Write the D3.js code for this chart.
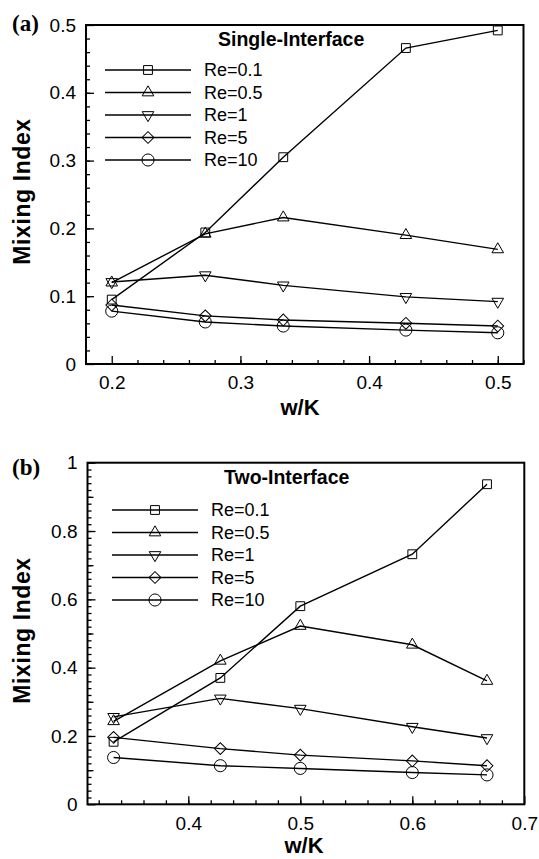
<!DOCTYPE html>
<html>
<head>
<meta charset="utf-8">
<script src="https://cdn.jsdelivr.net/npm/d3@7"></script>
<style>
body { margin: 0; background: #fff; }
text { font-family: "Liberation Sans", Arial, Helvetica, sans-serif; fill: #000; }
</style>
</head>
<body>
<script>
var w = 539;
var h = 859;

// legend names, shared by both panels
var names = ["Re=0.1", "Re=0.5", "Re=1", "Re=5", "Re=10"];

// (a) Single-Interface
var xA = [0.2, 0.2727, 0.3333, 0.4286, 0.5];
var a_re01 = [0.095, 0.194, 0.305, 0.466, 0.492];
var a_re05 = [0.120, 0.192, 0.216, 0.190, 0.169];
var a_re1  = [0.121, 0.131, 0.116, 0.099, 0.092];
var a_re5  = [0.087, 0.071, 0.065, 0.060, 0.056];
var a_re10 = [0.078, 0.062, 0.056, 0.050, 0.046];
var yTicksA = [0, 0.1, 0.2, 0.3, 0.4, 0.5];
var xTicksA = [0.2, 0.3, 0.4, 0.5];

// (b) Two-Interface
var xB = [0.3333, 0.4286, 0.5, 0.6, 0.6667];
var b_re01 = [0.183, 0.370, 0.580, 0.732, 0.937];
var b_re05 = [0.243, 0.420, 0.522, 0.467, 0.361];
var b_re1  = [0.256, 0.310, 0.280, 0.227, 0.194];
var b_re5  = [0.196, 0.163, 0.144, 0.127, 0.113];
var b_re10 = [0.137, 0.113, 0.105, 0.093, 0.086];
var yTicksB = [0, 0.2, 0.4, 0.6, 0.8, 1];
var xTicksB = [0.4, 0.5, 0.6, 0.7];

var svg = d3.select("body").append("svg")
  .attr("width", w)
  .attr("height", h);

svg.append("rect").attr("width", w).attr("height", h).attr("fill", "#fff");

// marker shapes, same order as names
var shapes = [
  {type: d3.symbolSquare, size: 78, rot: 0},
  {type: d3.symbolTriangle, size: 58, rot: 0},
  {type: d3.symbolTriangle, size: 58, rot: 180},
  {type: d3.symbolSquare, size: 70, rot: 45},
  {type: d3.symbolCircle, size: 115, rot: 0}
];

function marker(g, i, x, y) {
  var s = shapes[i];
  g.append("path")
    .attr("d", d3.symbol().type(s.type).size(s.size)())
    .attr("transform", "translate(" + x + "," + y + ") rotate(" + s.rot + ")")
    .attr("fill", "none")
    .attr("stroke", "#000")
    .attr("stroke-width", 1);
}

function drawPanel(p) {
  var x = d3.scaleLinear().domain(p.xDomain).range([p.left, p.right]);
  var y = d3.scaleLinear().domain(p.yDomain).range([p.bottom, p.top]);
  var g = svg.append("g");

  // minor ticks (inward)
  g.append("g")
    .attr("transform", "translate(0," + p.bottom + ")")
    .call(d3.axisBottom(x).tickValues(p.xMinor).tickSize(-4).tickFormat(""))
    .call(function(s) { s.select(".domain").remove(); });
  g.append("g")
    .attr("transform", "translate(" + p.left + ",0)")
    .call(d3.axisLeft(y).tickValues(p.yMinor).tickSize(-4).tickFormat(""))
    .call(function(s) { s.select(".domain").remove(); });
  if (p.yMid) {
    g.append("g")
      .attr("transform", "translate(" + p.left + ",0)")
      .call(d3.axisLeft(y).tickValues(p.yMid).tickSize(-6).tickFormat(""))
      .call(function(s) { s.select(".domain").remove(); });
  }

  // major ticks + labels
  g.append("g")
    .attr("transform", "translate(0," + p.bottom + ")")
    .call(d3.axisBottom(x).tickValues(p.xTicks).tickSizeInner(-8).tickSizeOuter(0).tickPadding(12)
      .tickFormat(d3.format("~g")))
    .call(function(s) {
      s.select(".domain").remove();
      s.selectAll("text").attr("font-size", 19).attr("font-family", null);
    });
  g.append("g")
    .attr("transform", "translate(" + p.left + ",0)")
    .call(d3.axisLeft(y).tickValues(p.yTicks).tickSizeInner(-8).tickSizeOuter(0).tickPadding(10)
      .tickFormat(d3.format("~g")))
    .call(function(s) {
      s.select(".domain").remove();
      s.selectAll("text").attr("font-size", 19).attr("font-family", null);
    });
  g.selectAll(".tick line").attr("stroke", "#000").attr("stroke-width", 1.3);

  // frame
  g.append("rect")
    .attr("x", p.left).attr("y", p.top)
    .attr("width", p.right - p.left).attr("height", p.bottom - p.top)
    .attr("fill", "none").attr("stroke", "#000").attr("stroke-width", 2);

  var line = d3.line()
    .x(function(d) { return x(d[0]); })
    .y(function(d) { return y(d[1]); });

  p.series.forEach(function(vals, i) {
    var pts = p.xs.map(function(xv, j) { return [xv, vals[j]]; });
    g.append("path")
      .attr("d", line(pts))
      .attr("fill", "none")
      .attr("stroke", "#000")
      .attr("stroke-width", 1.4);
    pts.forEach(function(d) { marker(g, i, x(d[0]), y(d[1])); });
  });

  // legend
  g.append("text")
    .attr("x", p.titleX).attr("y", p.titleY)
    .attr("font-size", 19.5).attr("font-weight", "bold")
    .text(p.title);
  names.forEach(function(n, i) {
    var ly = p.legY + i * 22.5;
    g.append("line")
      .attr("x1", p.legX).attr("x2", p.legX + 86)
      .attr("y1", ly).attr("y2", ly)
      .attr("stroke", "#000").attr("stroke-width", 1.4);
    marker(g, i, p.legX + 43, ly);
    g.append("text")
      .attr("x", p.legX + 99).attr("y", ly)
      .attr("dy", "0.36em")
      .attr("font-size", 18)
      .text(n);
  });

  // axis titles
  g.append("text")
    .attr("x", p.xTitleX).attr("y", p.xTitleY)
    .attr("text-anchor", "middle")
    .attr("font-size", 22).attr("font-weight", "bold")
    .text("w/K");
  g.append("text")
    .attr("transform", "translate(30," + ((p.top + p.bottom) / 2 - 3) + ") rotate(-90)")
    .attr("text-anchor", "middle")
    .attr("font-size", 23).attr("font-weight", "bold")
    .attr("letter-spacing", 0.6)
    .text("Mixing Index");

  // panel tag
  g.append("text")
    .attr("x", 12).attr("y", p.tagY)
    .style("font-family", "'Liberation Serif', 'Times New Roman', serif")
    .attr("font-size", 23).attr("font-weight", "bold")
    .text(p.tag);
}

drawPanel({
  tag: "(a)", tagY: 31,
  left: 86, right: 523.5, top: 25, bottom: 364,
  xDomain: [0.18, 0.52], yDomain: [0, 0.5],
  xTicks: xTicksA, yTicks: yTicksA,
  xMinor: d3.range(0.22, 0.52, 0.02), yMinor: d3.range(0.02, 0.5, 0.02),
  xs: xA, series: [a_re01, a_re05, a_re1, a_re5, a_re10],
  title: "Single-Interface", titleX: 218, titleY: 45.5,
  legX: 105, legY: 70,
  xTitleX: 300, xTitleY: 415
});

drawPanel({
  tag: "(b)", tagY: 475,
  left: 87.5, right: 524.3, top: 462.7, bottom: 804.3,
  xDomain: [0.31, 0.7], yDomain: [0, 1],
  xTicks: xTicksB, yTicks: yTicksB,
  xMinor: d3.range(0.32, 0.7, 0.02), yMinor: d3.range(0.02, 1, 0.02),
  yMid: [0.1, 0.3, 0.5, 0.7, 0.9],
  xs: xB, series: [b_re01, b_re05, b_re1, b_re5, b_re10],
  title: "Two-Interface", titleX: 224, titleY: 483.5,
  legX: 112, legY: 510,
  xTitleX: 304, xTitleY: 853
});
</script>
</body>
</html>
